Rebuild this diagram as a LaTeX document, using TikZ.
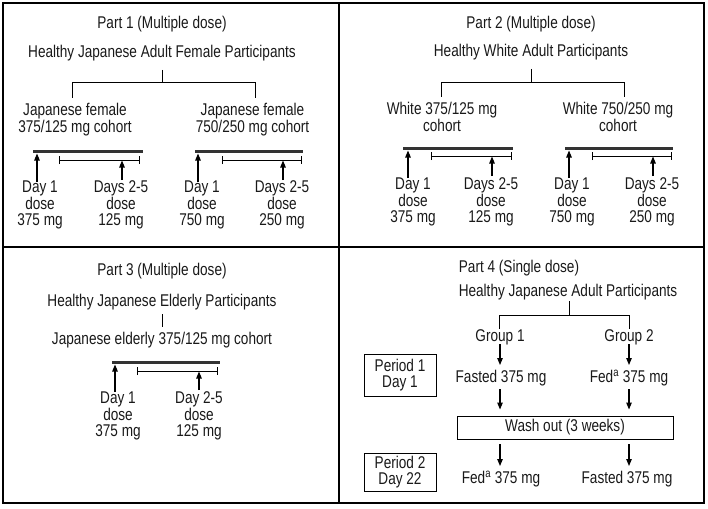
\documentclass[tikz,border=0pt]{standalone}
\usepackage{fontspec}
\setmainfont{Liberation Sans}[FakeStretch=0.8]
\usetikzlibrary{arrows.meta}
\begin{document}
\begin{tikzpicture}[x=1pt,y=-1pt,
  txt/.style={inner sep=0pt, align=center, font=\fontsize{17}{16.5}\selectfont, text=black!90},
  timebar/.style={line width=3pt, draw=black!80},
  span/.style={line width=1pt, {Bar[width=8pt]}-{Bar[width=8pt]}},
  uparrow/.style={line width=1.1pt, -{Triangle[length=7pt,width=5.5pt]}},
  conn/.style={line width=1pt},
  framebox/.style={draw, line width=0.8pt, inner sep=0pt, txt},
]
\useasboundingbox (0,0) rectangle (708,508);
% frame and dividers
\draw[line width=1.5pt] (3,3) rectangle (704,503);
\coordinate (vtop) at (339,3); \coordinate (vbot) at (339,503);
\coordinate (hl) at (3,247); \coordinate (hr) at (704,247);
\draw[line width=2pt] (vtop) -- (vbot);
\draw[line width=2pt] (hl) -- (hr);

% ================= Part 1 =================
\node[txt] (t1) at (162,24) {Part 1 (Multiple dose)};
\node[txt] (h1) at (162,53) {Healthy Japanese Adult Female Participants};
\coordinate (h1s) at (162,70); \coordinate (h1j) at (162,83);
\draw[conn] (h1s) -- (h1j);
\node[txt] (c1a) at (75,119.5) {Japanese female\\375/125 mg cohort};
\node[txt] (c1b) at (252.5,119.5) {Japanese female\\750/250 mg cohort};
\coordinate (c1aN) at (72,98); \coordinate (c1bN) at (255,98);
\draw[conn] (c1aN) -- ++(0,-15) -| (c1bN);
% left timeline
\coordinate (b1a1) at (33,151); \coordinate (b1a2) at (143,151);
\draw[timebar] (b1a1) -- (b1a2);
\coordinate (s1a1) at (59,160); \coordinate (s1a2) at (140,160);
\draw[span] (s1a1) -- (s1a2);
\node[txt] (d1a) at (40,205) {Day 1\\dose\\375 mg};
\node[txt] (e1a) at (121,205) {Days 2-5\\dose\\125 mg};
\coordinate (d1aT) at (37,182); \coordinate (d1aH) at (37,153.5);
\coordinate (e1aT) at (122,180); \coordinate (e1aH) at (122,160.5);
\draw[uparrow] (d1aT) -- (d1aH);
\draw[uparrow] (e1aT) -- (e1aH);
% right timeline
\coordinate (b1b1) at (195,151); \coordinate (b1b2) at (303,151);
\draw[timebar] (b1b1) -- (b1b2);
\coordinate (s1b1) at (222,160); \coordinate (s1b2) at (302,160);
\draw[span] (s1b1) -- (s1b2);
\node[txt] (d1b) at (202,205) {Day 1\\dose\\750 mg};
\node[txt] (e1b) at (282,205) {Days 2-5\\dose\\250 mg};
\coordinate (d1bT) at (198,182); \coordinate (d1bH) at (198,153.5);
\coordinate (e1bT) at (283,180); \coordinate (e1bH) at (283,160.5);
\draw[uparrow] (d1bT) -- (d1bH);
\draw[uparrow] (e1bT) -- (e1bH);

% ================= Part 2 =================
\node[txt] (t2) at (531,24) {Part 2 (Multiple dose)};
\node[txt] (h2) at (531,52) {Healthy White Adult Participants};
\coordinate (h2s) at (531,69); \coordinate (h2j) at (531,83);
\draw[conn] (h2s) -- (h2j);
\node[txt] (c2a) at (442,117) {White 375/125 mg\\cohort};
\node[txt] (c2b) at (618,117) {White 750/250 mg\\cohort};
\coordinate (c2aN) at (441,97); \coordinate (c2bN) at (624,97);
\draw[conn] (c2aN) -- ++(0,-14) -| (c2bN);
% left timeline
\coordinate (b2a1) at (403,148); \coordinate (b2a2) at (513,148);
\draw[timebar] (b2a1) -- (b2a2);
\coordinate (s2a1) at (431,156); \coordinate (s2a2) at (512,156);
\draw[span] (s2a1) -- (s2a2);
\node[txt] (d2a) at (413,202) {Day 1\\dose\\375 mg};
\node[txt] (e2a) at (491,202) {Days 2-5\\dose\\125 mg};
\coordinate (d2aT) at (408,178); \coordinate (d2aH) at (408,150.5);
\coordinate (e2aT) at (492,176); \coordinate (e2aH) at (492,156.5);
\draw[uparrow] (d2aT) -- (d2aH);
\draw[uparrow] (e2aT) -- (e2aH);
% right timeline
\coordinate (b2b1) at (565,148); \coordinate (b2b2) at (673,148);
\draw[timebar] (b2b1) -- (b2b2);
\coordinate (s2b1) at (592,156); \coordinate (s2b2) at (672,156);
\draw[span] (s2b1) -- (s2b2);
\node[txt] (d2b) at (572,202) {Day 1\\dose\\750 mg};
\node[txt] (e2b) at (652,202) {Days 2-5\\dose\\250 mg};
\coordinate (d2bT) at (569,178); \coordinate (d2bH) at (569,150.5);
\coordinate (e2bT) at (653,176); \coordinate (e2bH) at (653,156.5);
\draw[uparrow] (d2bT) -- (d2bH);
\draw[uparrow] (e2bT) -- (e2bH);

% ================= Part 3 =================
\node[txt] (t3) at (162,271) {Part 3 (Multiple dose)};
\node[txt] (h3) at (162,302) {Healthy Japanese Elderly Participants};
\node[txt] (c3) at (162,340) {Japanese elderly 375/125 mg cohort};
\coordinate (h3s) at (162,314); \coordinate (c3N) at (162,327);
\draw[conn] (h3s) -- (c3N);
\coordinate (b31) at (112,362); \coordinate (b32) at (220,362);
\draw[timebar] (b31) -- (b32);
\coordinate (s31) at (137,371); \coordinate (s32) at (218,371);
\draw[span] (s31) -- (s32);
\node[txt] (d3) at (118,416) {Day 1\\dose\\375 mg};
\node[txt] (e3) at (199,416) {Day 2-5\\dose\\125 mg};
\coordinate (d3T) at (115,392); \coordinate (d3H) at (115,364.5);
\coordinate (e3T) at (199,390); \coordinate (e3H) at (199,371.5);
\draw[uparrow] (d3T) -- (d3H);
\draw[uparrow] (e3T) -- (e3H);

% ================= Part 4 =================
\node[txt] (t4) at (519,268) {Part 4 (Single dose)};
\node[txt] (h4) at (568,292) {Healthy Japanese Adult Participants};
\coordinate (h4s) at (569,301); \coordinate (h4j) at (569,315);
\draw[conn] (h4s) -- (h4j);
\node[txt] (g1) at (500,337) {Group 1};
\node[txt] (g2) at (629,337) {Group 2};
\coordinate (g1N) at (499,329); \coordinate (g2N) at (629,329);
\draw[conn] (g1N) -- ++(0,-14) -| (g2N);
\node[txt] (f1) at (501,378) {Fasted 375 mg};
\node[txt] (f2) at (629,378) {Fed\textsuperscript{a} 375 mg};
\node[framebox, minimum width=216pt, minimum height=23pt] (wash) at (565,427.5) {Wash out (3 weeks)};
\node[txt] (f3) at (501,479) {Fed\textsuperscript{a} 375 mg};
\node[txt] (f4) at (627,479) {Fasted 375 mg};
\node[framebox, minimum width=72pt, minimum height=42pt] (p1) at (400,375) {Period 1\\Day 1};
\node[framebox, minimum width=72pt, minimum height=38pt] (p2) at (400,472) {Period 2\\Day 22};
\tikzset{downarrow/.style={uparrow}}
\draw[downarrow] (500,344) coordinate (g1S) -- (500,365) coordinate (f1N);
\draw[downarrow] (629,344) coordinate (g2S) -- (629,365) coordinate (f2N);
\draw[downarrow] (500,389) coordinate (f1S) -- (500,409.5) coordinate (w1N);
\draw[downarrow] (629,389) coordinate (f2S) -- (629,409.5) coordinate (w2N);
\draw[downarrow] (500,444) coordinate (w1S) -- (500,466) coordinate (f3N);
\draw[downarrow] (629,444) coordinate (w2S) -- (629,466) coordinate (f4N);
\end{tikzpicture}
\end{document}
